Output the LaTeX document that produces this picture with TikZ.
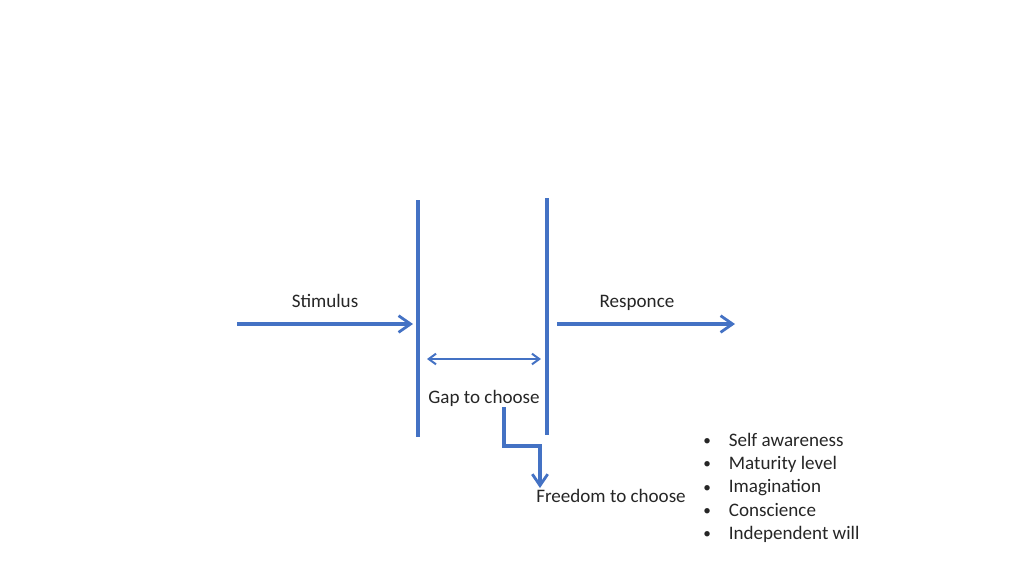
\documentclass[tikz,border=0pt]{standalone}
\usepackage{fontspec}
\setmainfont{Carlito}
\usetikzlibrary{arrows.meta}
\definecolor{pblue}{HTML}{4472C4}
\tikzset{
  bar/.style={draw=pblue, line width=3.4pt},
  flow/.style={draw=pblue, line width=2.3pt, -{Straight Barb[length=9pt,width=12.5pt,line width=2.1pt]}},
  elbow/.style={draw=pblue, line width=2.3pt, -{Straight Barb[length=8.5pt,width=11.5pt,line width=2.1pt]}},
  gap/.style={draw=pblue, line width=1.7pt, {Straight Barb[length=5.5pt,width=8pt,line width=1.5pt]}-{Straight Barb[length=5.5pt,width=8pt,line width=1.5pt]}},
  lbl/.style={inner sep=0pt, font=\fontsize{14.3pt}{17.5pt}\selectfont, text=black!85},
}
\newcommand{\mybul}{\raisebox{0.03em}{\scalebox{0.8}{\textbullet}}}
\begin{document}
\begin{tikzpicture}[x=0.75pt,y=-0.75pt]
\useasboundingbox (0,0) rectangle (1024,576);
% bars
\coordinate (l1) at (418,200); \coordinate (l2) at (418,437);
\coordinate (r1) at (547,198); \coordinate (r2) at (547,435);
\draw[bar] (l1) -- (l2);
\draw[bar] (r1) -- (r2);
% stimulus / response
\coordinate (sa) at (237,324); \coordinate (sb) at (413,324);
\coordinate (ra) at (557,324); \coordinate (rb) at (735,324);
\draw[flow] (sa) -- (sb);
\draw[flow] (ra) -- (rb);
\node[lbl, anchor=base] (stim) at (325,307) {Stimulus};
\node[lbl, anchor=base] (resp) at (637,307) {Responce};
% gap
\coordinate (ga) at (427,359); \coordinate (gb) at (541,359);
\draw[gap] (ga) -- (gb);
\node[lbl, anchor=base] (gtc) at (484,403) {Gap to choose};
\node[lbl, anchor=base] (ftc) at (611,502) {Freedom to choose};
\coordinate (e0) at (504,407);
\coordinate (e1) at (540,488);
\draw[elbow] (e0) -- (504,446) -- (540,446) -- (e1);
% list
\node[lbl, anchor=base west, align=left] (list) at (703,446) {%
\begin{tabular}[t]{@{}l@{\hspace{13.5pt}}l@{}}
\mybul & Self awareness\\
\mybul & Maturity level\\
\mybul & Imagination\\
\mybul & Conscience\\
\mybul & Independent will
\end{tabular}};
\end{tikzpicture}
\end{document}
